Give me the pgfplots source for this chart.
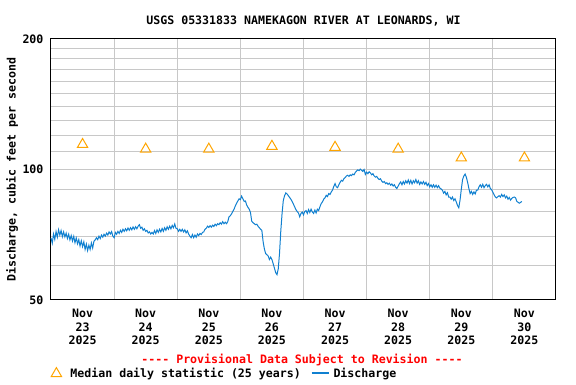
\documentclass[border=0pt]{standalone}
\usepackage{pgfplots}
\pgfplotsset{compat=1.18}
\usepackage{fontspec}
\setmainfont{DejaVu Sans Mono}[Ligatures=TeXOff]
\definecolor{gridgray}{RGB}{200,200,200}
\definecolor{qblue}{RGB}{16,128,208}
\definecolor{qorange}{RGB}{255,165,0}
\newcommand\lf{\fontsize{11.6}{13.5}\selectfont\bfseries}
\begin{document}
\begin{tikzpicture}
\useasboundingbox (0pt,0pt) rectangle (576pt,384pt);
\begin{axis}[
  at={(51pt,84pt)}, anchor=south west,
  scale only axis, width=505pt, height=261pt,
  ymode=log, xmin=0, xmax=8, ymin=50, ymax=200,
  /pgf/number format/assume math mode=true,
  xtick={0.5,1.5,...,7.5},
  xticklabels={{Nov\\23\\2025},{Nov\\24\\2025},{Nov\\25\\2025},{Nov\\26\\2025},{Nov\\27\\2025},{Nov\\28\\2025},{Nov\\29\\2025},{Nov\\30\\2025}},
  xticklabel style={align=center, font=\lf, yshift=-6pt},
  minor xtick={1,2,3,4,5,6,7},
  xminorgrids=true, xmajorgrids=false,
  ytick={50,100,200}, yticklabels={50,100,200},
  yticklabel style={font=\lf, xshift=-4pt},
  minor ytick={60,70,80,90,110,120,130,140,150,160,170,180,190},
  ymajorgrids=true, yminorgrids=true,
  major tick length=0pt, minor tick length=0pt,
  grid style={gridgray, line width=1pt},
  minor grid style={gridgray, line width=1pt},
  major grid style={gridgray, line width=1pt},
  axis line style={black, line width=1pt},
  title={USGS 05331833 NAMEKAGON RIVER AT LEONARDS, WI},
  title style={font=\lf, at={(axis description cs:0.5,1)}, anchor=center, yshift=12pt},
  ylabel={Discharge, cubic feet per second},
  ylabel style={font=\lf, at={(axis description cs:-0.0772,0.5)}, anchor=center},
  legend columns=2,
  legend style={draw=none, fill=none, font=\lf, at={(axis description cs:0,-0.282)}, anchor=west, inner sep=0pt, /tikz/every even column/.append style={column sep=8pt}},
  legend cell align=left,
  clip=false,
]
\addplot[only marks, mark=triangle, mark size=6pt, mark options={qorange, line width=1pt},
  legend image code/.code={\draw[mark=triangle, mark size=6pt, qorange, line width=1pt] plot coordinates {(0pt,0pt)}; \path[draw=none] (-5.2pt,0pt) -- (12pt,0pt);}] coordinates {
(0.5,114.2) (1.5,111.4) (2.5,111.4) (3.5,113.1) (4.5,112.5) (5.5,111.4) (6.5,106.3) (7.5,106.3)
};
\addlegendentry{Median daily statistic (25 years)}
\addplot[qblue, line width=1pt, mark=none,
  legend image code/.code={\draw[draw=qblue, line width=1.3pt] (-2pt,0.5pt) -- (15pt,0.5pt); \path[draw=none] (-2pt,0pt) -- (18pt,0pt);}] coordinates {
(0.00,69.5) (0.02,67.6) (0.04,71.0) (0.06,69.0) (0.08,71.9) (0.10,69.8) (0.12,72.6) (0.14,70.6) (0.16,72.3) (0.18,70.0)
(0.20,71.8) (0.22,69.9) (0.24,71.3) (0.26,69.3) (0.28,70.9) (0.30,68.8) (0.32,70.4) (0.34,68.4) (0.36,70.1) (0.38,67.8)
(0.40,69.5) (0.42,67.4) (0.44,68.9) (0.46,66.6) (0.48,68.5) (0.50,66.4) (0.52,68.1) (0.54,65.4) (0.56,67.3) (0.58,65.0)
(0.60,66.9) (0.62,65.4) (0.64,67.7) (0.66,65.9) (0.68,68.3) (0.70,68.8) (0.72,69.6) (0.74,68.9) (0.76,70.2) (0.78,69.3)
(0.80,70.6) (0.82,69.8) (0.84,70.9) (0.86,70.2) (0.88,71.3) (0.90,70.6) (0.92,71.8) (0.94,71.0) (0.96,71.9) (0.98,70.2)
(1.00,69.6) (1.02,71.6) (1.04,70.9) (1.06,72.0) (1.08,71.2) (1.10,72.4) (1.12,71.6) (1.14,72.8) (1.16,72.0) (1.18,73.0)
(1.20,72.2) (1.22,73.3) (1.24,72.4) (1.26,73.4) (1.28,72.6) (1.30,73.7) (1.32,72.8) (1.34,73.8) (1.36,73.0) (1.38,74.0)
(1.40,74.6) (1.42,73.2) (1.44,73.6) (1.46,72.4) (1.48,73.0) (1.50,72.0) (1.52,72.4) (1.54,71.4) (1.56,71.8) (1.58,71.0)
(1.60,71.6) (1.62,71.0) (1.64,72.3) (1.66,71.2) (1.68,72.6) (1.70,71.6) (1.72,72.8) (1.74,71.8) (1.76,73.1) (1.78,72.0)
(1.80,73.4) (1.82,72.4) (1.84,73.8) (1.86,72.8) (1.88,74.0) (1.90,73.0) (1.92,74.3) (1.94,73.4) (1.96,74.9) (1.98,73.2)
(2.00,73.0) (2.02,72.0) (2.04,72.8) (2.06,72.0) (2.08,72.8) (2.10,71.8) (2.12,72.6) (2.14,71.4) (2.16,72.2) (2.18,71.0)
(2.20,70.2) (2.22,69.6) (2.24,70.8) (2.26,69.6) (2.28,70.6) (2.30,69.8) (2.32,71.0) (2.34,70.4) (2.36,71.2) (2.38,70.8)
(2.40,71.6) (2.42,71.8) (2.44,72.8) (2.46,73.2) (2.48,74.0) (2.50,73.5) (2.52,74.2) (2.54,73.6) (2.56,74.4) (2.58,73.9)
(2.60,74.8) (2.62,74.2) (2.64,75.0) (2.66,74.6) (2.68,75.4) (2.70,74.8) (2.72,75.8) (2.74,75.0) (2.76,75.6) (2.78,75.0)
(2.80,75.8) (2.82,77.8) (2.84,78.2) (2.86,79.0) (2.88,80.0) (2.90,81.0) (2.92,82.4) (2.94,83.6) (2.96,84.6) (2.98,85.6)
(3.00,85.2) (3.02,86.8) (3.04,85.6) (3.06,84.4) (3.08,84.6) (3.10,82.8) (3.12,81.8) (3.14,81.0) (3.16,79.6) (3.18,76.0)
(3.20,75.4) (3.22,75.0) (3.24,74.6) (3.26,74.8) (3.28,74.0) (3.30,73.4) (3.32,72.8) (3.34,72.4) (3.36,68.2) (3.38,65.6)
(3.40,64.0) (3.42,63.6) (3.44,63.2) (3.46,62.0) (3.48,62.8) (3.50,62.0) (3.52,60.6) (3.54,59.2) (3.56,57.8) (3.58,57.2)
(3.60,59.0) (3.62,64.0) (3.64,72.0) (3.66,79.0) (3.68,84.8) (3.70,87.0) (3.72,88.3) (3.74,87.8) (3.76,87.0) (3.78,86.2)
(3.80,85.4) (3.82,84.4) (3.84,83.2) (3.86,82.0) (3.88,80.8) (3.90,80.0) (3.92,79.4) (3.94,77.8) (3.96,79.2) (3.98,79.8)
(4.00,78.6) (4.02,80.0) (4.04,80.4) (4.06,79.2) (4.08,80.8) (4.10,79.6) (4.12,81.0) (4.14,79.8) (4.16,79.2) (4.18,80.6)
(4.20,79.4) (4.22,81.0) (4.24,80.4) (4.26,82.0) (4.28,83.4) (4.30,84.2) (4.32,85.4) (4.34,86.0) (4.36,87.2) (4.38,86.6)
(4.40,88.0) (4.42,87.6) (4.44,88.8) (4.46,89.6) (4.48,91.4) (4.50,92.8) (4.52,91.2) (4.54,90.8) (4.56,92.2) (4.58,93.4)
(4.60,94.4) (4.62,94.0) (4.64,95.2) (4.66,95.8) (4.68,96.6) (4.70,97.0) (4.72,96.4) (4.74,97.2) (4.76,96.8) (4.78,97.6)
(4.80,97.2) (4.82,98.4) (4.84,99.2) (4.86,99.8) (4.88,99.4) (4.90,100.2) (4.92,99.6) (4.94,99.0) (4.96,100.0) (4.98,97.4)
(5.00,98.6) (5.02,97.8) (5.04,98.8) (5.06,98.2) (5.08,97.2) (5.10,97.8) (5.12,96.6) (5.14,96.0) (5.16,96.4) (5.18,95.4)
(5.20,94.8) (5.22,95.2) (5.24,94.0) (5.26,93.4) (5.28,93.8) (5.30,92.8) (5.32,93.2) (5.34,92.4) (5.36,93.0) (5.38,92.0)
(5.40,92.6) (5.42,91.6) (5.44,92.2) (5.46,91.0) (5.48,90.4) (5.50,91.6) (5.52,92.8) (5.54,93.6) (5.56,92.2) (5.58,93.8)
(5.60,92.6) (5.62,94.2) (5.64,93.0) (5.66,94.6) (5.68,92.8) (5.70,94.4) (5.72,92.6) (5.74,94.2) (5.76,93.2) (5.78,94.8)
(5.80,93.0) (5.82,94.2) (5.84,92.4) (5.86,93.6) (5.88,92.6) (5.90,93.8) (5.92,92.4) (5.94,93.4) (5.96,91.8) (5.98,92.8)
(6.00,91.2) (6.02,92.2) (6.04,91.0) (6.06,92.2) (6.08,91.0) (6.10,92.0) (6.12,90.8) (6.14,91.8) (6.16,90.6) (6.18,90.2)
(6.20,89.6) (6.22,88.2) (6.24,89.0) (6.26,87.4) (6.28,88.4) (6.30,86.4) (6.32,86.4) (6.34,85.4) (6.36,86.4) (6.38,84.8)
(6.40,85.6) (6.42,84.2) (6.44,82.6) (6.46,81.6) (6.48,85.0) (6.50,90.0) (6.52,94.8) (6.54,96.6) (6.56,97.6) (6.58,96.0)
(6.60,93.4) (6.62,90.4) (6.64,88.0) (6.66,89.0) (6.68,87.6) (6.70,88.8) (6.72,87.8) (6.74,89.6) (6.76,89.6) (6.78,91.2)
(6.80,92.2) (6.82,91.0) (6.84,92.4) (6.86,90.8) (6.88,91.8) (6.90,92.4) (6.92,91.2) (6.94,92.2) (6.96,90.4) (6.98,89.8)
(7.00,88.6) (7.02,87.4) (7.04,86.4) (7.06,86.0) (7.08,86.6) (7.10,87.0) (7.12,86.4) (7.14,87.6) (7.16,86.6) (7.18,87.4)
(7.20,86.0) (7.22,86.8) (7.24,85.4) (7.26,86.2) (7.28,85.0) (7.30,85.8) (7.32,86.2) (7.34,86.4) (7.36,86.0) (7.38,84.4)
(7.40,84.0) (7.42,83.6) (7.44,84.0) (7.46,84.4)
};
\addlegendentry{Discharge}
\node[font=\lf, text=red, anchor=center] at (axis description cs:0.497,-0.2299) {---- Provisional Data Subject to Revision ----};
\end{axis}
\end{tikzpicture}
\end{document}
